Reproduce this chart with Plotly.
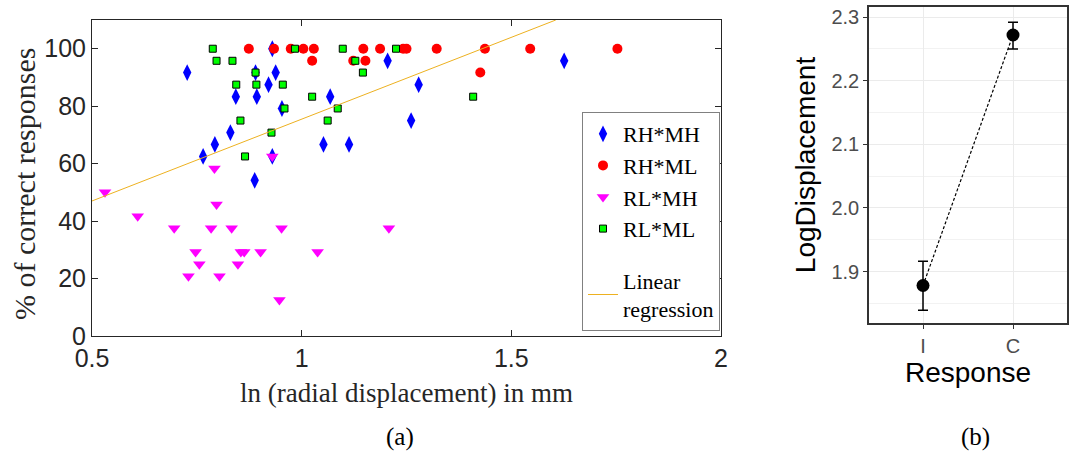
import plotly.graph_objects as go

# ---------------- data: panel (a) ----------------
rhmh_x = [0.727, 0.930, 0.890, 0.938, 0.921, 0.843, 0.893, 1.068, 0.953, 0.830,
          0.793, 1.052, 0.765, 0.930, 0.888, 1.205, 1.626, 1.279, 1.261, 1.113]
rhmh_y = [91.7, 100, 91.7, 91.7, 87.5, 83.3, 83.3, 83.3, 79.2, 70.8,
          66.7, 66.7, 62.5, 62.5, 54.2, 95.8, 95.8, 87.5, 75.0, 66.7]

rhml_x = [0.874, 0.934, 0.974, 1.004, 1.029, 1.025, 1.147, 1.187, 1.242, 1.250,
          1.322, 1.437, 1.545, 1.753, 1.123, 1.152, 1.426]
rhml_y = [100, 100, 100, 100, 100, 95.8, 100, 100, 100, 100,
          100, 100, 100, 100, 95.8, 95.8, 91.7]

rlmh_x = [0.531, 0.797, 0.609, 0.696, 0.784, 0.833, 0.952, 1.208, 0.747, 0.855,
          0.863, 0.902, 1.038, 0.756, 0.848, 0.730, 0.804, 0.947, 0.792, 0.930]
rlmh_y = [50.0, 45.8, 41.7, 37.5, 37.5, 37.5, 37.5, 37.5, 29.2, 29.2,
          29.2, 29.2, 29.2, 25.0, 25.0, 20.8, 20.8, 12.5, 58.3, 62.5]

rlml_x = [0.788, 0.797, 0.835, 0.984, 0.890, 0.844, 0.892, 0.955, 1.025, 0.959,
          1.086, 0.854, 1.062, 0.928, 0.865, 1.098, 1.128, 1.225, 1.146, 1.409]
rlml_y = [100, 95.8, 95.8, 100, 91.7, 87.5, 87.5, 87.5, 83.3, 79.2,
          79.2, 75.0, 75.0, 70.8, 62.5, 100, 95.8, 100, 91.7, 83.3]

reg_x = [0.5, 1.606]
reg_y = [47.0, 110.0]

# ---------------- data: panel (b) ----------------
resp_cat = ["I", "C"]
resp_mean = [1.878, 2.272]
resp_err_plus = [0.038, 0.020]
resp_err_minus = [0.039, 0.022]

SERIF = "Liberation Serif"
SANS = "Liberation Sans"
W, H = 1078, 455

fig = go.Figure()

fig.add_trace(go.Scatter(x=rhmh_x, y=rhmh_y, mode="markers", name="RH*MH",
                         legendgroup="g1",
                         marker=dict(symbol="diamond-tall", size=12, color="#0000FF",
                                     line=dict(width=0)),
                         xaxis="x", yaxis="y"))
fig.add_trace(go.Scatter(x=rhml_x, y=rhml_y, mode="markers", name="RH*ML",
                         legendgroup="g1",
                         marker=dict(symbol="circle", size=10, color="#FF0000",
                                     line=dict(width=0)),
                         xaxis="x", yaxis="y"))
fig.add_trace(go.Scatter(x=rlmh_x, y=rlmh_y, mode="markers", name="RL*MH",
                         legendgroup="g1",
                         marker=dict(symbol="triangle-down", size=11, color="#FF00FF",
                                     line=dict(width=0)),
                         xaxis="x", yaxis="y"))
fig.add_trace(go.Scatter(x=rlml_x, y=rlml_y, mode="markers", name="RL*ML",
                         legendgroup="g1",
                         marker=dict(symbol="square", size=7, color="#00FF00",
                                     line=dict(width=1, color="#000000")),
                         xaxis="x", yaxis="y"))
fig.add_trace(go.Scatter(x=reg_x, y=reg_y, mode="lines", name="Linear<br>regression",
                         legendgroup="g2",
                         line=dict(color="#EDB120", width=1),
                         xaxis="x", yaxis="y"))

# panel (b)
fig.add_trace(go.Scatter(x=resp_cat, y=resp_mean, mode="lines+markers",
                         line=dict(color="#000000", width=1.2, dash="3px,2px"),
                         marker=dict(symbol="circle", size=13, color="#000000"),
                         error_y=dict(type="data", array=resp_err_plus,
                                      arrayminus=resp_err_minus, symmetric=False,
                                      color="#000000", thickness=1.5, width=5),
                         showlegend=False, xaxis="x2", yaxis="y2"))

axis_a_common = dict(showline=True, linecolor="#262626", linewidth=1, mirror="ticks",
                     ticks="inside", ticklen=6, tickcolor="#262626",
                     showgrid=False, zeroline=False, automargin=False,
                     tickfont=dict(family=SANS, size=25, color="#262626"))

axis_b_common = dict(showline=True, linecolor="#333333", linewidth=1.5, mirror=True,
                     ticks="outside", ticklen=4, tickcolor="#333333",
                     showgrid=True, gridcolor="#EBEBEB", gridwidth=1.2, zeroline=False,
                     automargin=False,
                     tickfont=dict(family=SANS, size=20, color="#4D4D4D"))

fig.update_layout(
    width=W, height=H,
    margin=dict(l=0, r=0, t=0, b=0),
    paper_bgcolor="white", plot_bgcolor="white",
    xaxis=dict(domain=[92 / W, 721 / W], range=[0.5, 2],
               tickvals=[0.5, 1, 1.5, 2], ticktext=["0.5", "1", "1.5", "2"],
               title=dict(text="ln (radial displacement) in mm",
                          font=dict(family=SERIF, size=27, color="#262626"), standoff=12),
               anchor="y", **axis_a_common),
    yaxis=dict(domain=[1 - 336 / H, 1 - 20 / H], range=[0, 110],
               tickvals=[0, 20, 40, 60, 80, 100],
               anchor="x", **axis_a_common),
    xaxis2=dict(domain=[869 / W, 1067 / W], type="category",
                categoryorder="array", categoryarray=resp_cat, range=[-0.6, 1.6],
                title=dict(text="Response", font=dict(family=SANS, size=28, color="#000000"),
                           standoff=2),
                anchor="y2", **axis_b_common),
    yaxis2=dict(domain=[1 - 323 / H, 1 - 7 / H], range=[1.819, 2.316],
                tickvals=[1.9, 2.0, 2.1, 2.2, 2.3], ticktext=["1.9", "2.0", "2.1", "2.2", "2.3"],
                minor=dict(dtick=0.05, tick0=1.85, showgrid=True, gridcolor="#F2F2F2",
                           gridwidth=0.8, ticks=""),
                title=dict(text="LogDisplacement", font=dict(family=SANS, size=28, color="#000000"),
                           standoff=8),
                anchor="x2", **axis_b_common),
    legend=dict(x=582 / W, y=1 - 112 / H, xanchor="left", yanchor="top",
                bgcolor="white", bordercolor="#808080", borderwidth=1,
                font=dict(family=SERIF, size=22, color="#000000"),
                itemwidth=30, tracegroupgap=20),
    annotations=[
        dict(text="% of correct responses", textangle=-90,
             x=24 / W, y=1 - 184 / H, xref="paper", yref="paper",
             xanchor="center", yanchor="middle",
             showarrow=False, font=dict(family=SERIF, size=30, color="#262626")),
        dict(text="(a)", x=400 / W, y=1 - 437 / H, xref="paper", yref="paper",
             xanchor="center", yanchor="middle",
             showarrow=False, font=dict(family=SERIF, size=25, color="#000000")),
        dict(text="(b)", x=975 / W, y=1 - 437 / H, xref="paper", yref="paper",
             xanchor="center", yanchor="middle",
             showarrow=False, font=dict(family=SERIF, size=25, color="#000000")),
    ],
)

fig.write_html("out.html", config={"displayModeBar": False},
               post_script="document.body.style.margin='0';document.body.style.padding='0';")
